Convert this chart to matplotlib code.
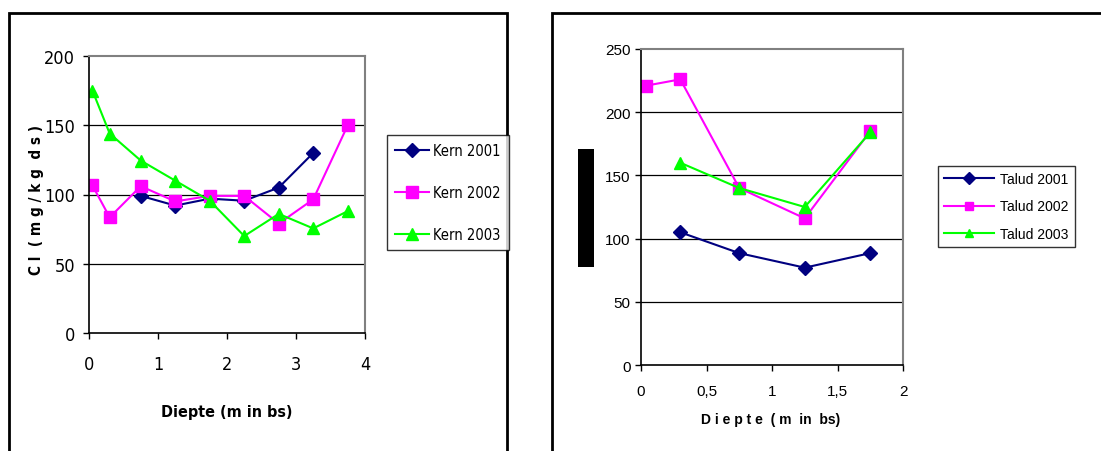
import matplotlib
matplotlib.use("Agg")
import matplotlib.pyplot as plt
from matplotlib.patches import Rectangle

# left panel: Kern
kern_x = [0.05, 0.3, 0.75, 1.25, 1.75, 2.25, 2.75, 3.25, 3.75]
kern_2001_x = [0.75, 1.25, 1.75, 2.25, 2.75, 3.25]
kern_2001 = [99, 92, 97, 95.5, 105, 130]
kern_2002 = [106.5, 83.5, 106, 95, 99, 99, 79, 96.5, 150]
kern_2003 = [175, 144, 124.5, 110, 95.5, 70, 86, 75.5, 88]

# right panel: Talud
talud_x = [0.3, 0.75, 1.25, 1.75]
talud_2002_x = [0.04, 0.3, 0.75, 1.25, 1.75]
talud_2001 = [105, 88.5, 77, 88.5]
talud_2002 = [221, 226, 140, 116, 185]
talud_2003 = [160, 140, 125, 184]

NAVY = "#000080"
MAG = "#FF00FF"
GRN = "#00FF00"
W, H = 1101, 452

plt.rcParams["font.family"] = ["Liberation Sans", "DejaVu Sans"]
NARROW = dict(family="DejaVu Sans", stretch="condensed")

fig = plt.figure(figsize=(W / 100, H / 100), dpi=100)


def fx(px):
    return px / W


def fy(py):
    return 1 - py / H


# panel frames
fig.patches.append(Rectangle((fx(9), fy(460)), fx(498), fy(14) - fy(460),
                             transform=fig.transFigure, fill=False, lw=2, ec="black"))
fig.patches.append(Rectangle((fx(552), fy(460)), fx(600), fy(14) - fy(460),
                             transform=fig.transFigure, fill=False, lw=2, ec="black"))
# black block on the right panel
fig.patches.append(Rectangle((fx(578), fy(268)), fx(16), fy(150) - fy(268),
                             transform=fig.transFigure, fill=True, lw=0, fc="black"))


def style_axes(ax, ymax, step):
    ax.set_ylim(0, ymax)
    ax.set_yticks(range(0, ymax + 1, step))
    for y in range(step, ymax, step):
        ax.axhline(y, color="black", lw=0.9, zorder=0)
    ax.spines["top"].set_color("#808080")
    ax.spines["right"].set_color("#808080")
    ax.spines["top"].set_linewidth(1.5)
    ax.spines["right"].set_linewidth(1.5)
    ax.spines["left"].set_linewidth(1.2)
    ax.spines["bottom"].set_linewidth(1.2)
    ax.tick_params(direction="out", length=4, width=1)


# ---- left chart
ax1 = fig.add_axes([fx(89), fy(334), fx(276), fy(57) - fy(334)])
l1, = ax1.plot(kern_2001_x, kern_2001, color=NAVY, marker="D", ms=7, lw=1.5, label="Kern 2001")
l2, = ax1.plot(kern_x, kern_2002, color=MAG, marker="s", ms=8, lw=1.5, label="Kern 2002")
l3, = ax1.plot(kern_x, kern_2003, color=GRN, marker="^", ms=9, lw=1.5, label="Kern 2003")
ax1.set_xlim(0, 4)
ax1.set_xticks([0, 1, 2, 3, 4])
style_axes(ax1, 200, 50)
for lab in ax1.get_xticklabels() + ax1.get_yticklabels():
    lab.set_family(NARROW["family"])
    lab.set_stretch("condensed")
    lab.set_fontsize(13)
ax1.tick_params(axis="x", pad=12)
ax1.tick_params(axis="y", pad=6)
fig.text(fx(227), fy(413), "Diepte (m in bs)", ha="center", va="center",
         fontsize=11.5, fontweight="bold", **NARROW)
fig.text(fx(37), fy(200), "C l  ( m g / k g  d s )", ha="center", va="center",
         rotation=90, fontsize=11, fontweight="bold", **NARROW)
leg1 = fig.legend(handles=[l1, l2, l3], loc="upper left",
                  bbox_to_anchor=(fx(387), fy(136)), frameon=True, fancybox=False,
                  edgecolor="black", prop={"family": "DejaVu Sans", "stretch": "condensed", "size": 10.5},
                  handlelength=2.3, labelspacing=1.85, borderpad=0.55, handletextpad=0.3,
                  borderaxespad=0)
leg1.get_frame().set_linewidth(1)

# ---- right chart
ax2 = fig.add_axes([fx(641), fy(366), fx(262), fy(50) - fy(366)])
r1, = ax2.plot(talud_x, talud_2001, color=NAVY, marker="D", ms=7, lw=1.5, label="Talud 2001")
r2, = ax2.plot(talud_2002_x, talud_2002, color=MAG, marker="s", ms=8, lw=1.5, label="Talud 2002")
r3, = ax2.plot(talud_x, talud_2003, color=GRN, marker="^", ms=9, lw=1.5, label="Talud 2003")
ax2.set_xlim(0, 2)
ax2.set_xticks([0, 0.5, 1, 1.5, 2])
ax2.set_xticklabels(["0", "0,5", "1", "1,5", "2"])
style_axes(ax2, 250, 50)
for lab in ax2.get_xticklabels() + ax2.get_yticklabels():
    lab.set_fontsize(11)
ax2.tick_params(axis="x", pad=10)
fig.text(fx(771), fy(420), "D i e p t e  ( m  in  bs)", ha="center", va="center",
         fontsize=10, fontweight="bold")
leg2 = fig.legend(handles=[r1, r2, r3], loc="upper left",
                  bbox_to_anchor=(fx(938), fy(167)), frameon=True, fancybox=False,
                  edgecolor="black", prop={"size": 10},
                  handlelength=3.6, labelspacing=0.95, borderpad=0.45, handletextpad=0.4,
                  borderaxespad=0)
leg2.get_frame().set_linewidth(1)
for h in leg2.legend_handles:
    h.set_markersize(6)

fig.savefig("out.png", dpi=100)
